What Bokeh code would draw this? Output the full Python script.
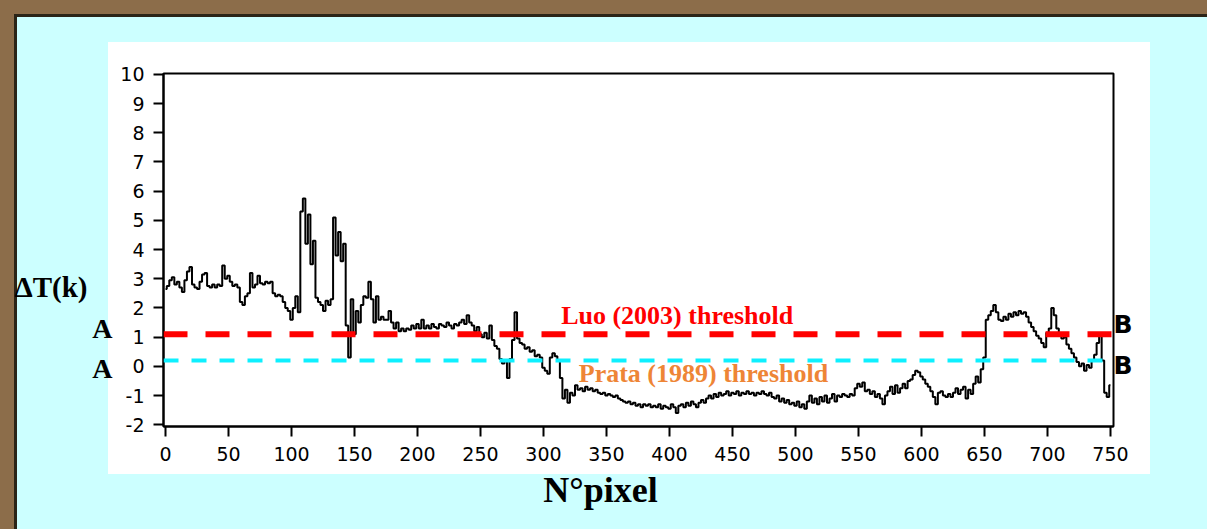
from bokeh.plotting import figure
from bokeh.models import Span, Label, FixedTicker, Range1d, LinearAxis
from bokeh.embed import file_html
from bokeh.resources import INLINE

# ---- data ----
pixel = list(range(0, 751, 2))
delta_t = [
    2.65, 2.75, 2.95, 3.05, 2.8, 2.9, 2.7, 2.55, 2.95, 3.25,
    3.4, 2.8, 2.7, 2.65, 2.9, 3.15, 3.2, 2.75, 2.7, 2.8,
    2.7, 2.8, 2.75, 3.45, 3.0, 3.1, 2.9, 2.75, 2.8, 2.7,
    2.2, 2.1, 2.4, 2.5, 3.2, 2.7, 2.8, 3.1, 2.85, 2.8,
    2.9, 2.85, 2.9, 2.5, 2.4, 2.45, 2.4, 2.2, 2.0, 1.9,
    1.6, 2.0, 2.4, 1.85, 5.3, 5.75, 4.2, 5.2, 3.5, 4.3,
    2.35, 2.2, 2.1, 1.9, 2.25, 2.1, 2.3, 5.1, 3.8, 4.6,
    3.6, 4.2, 1.4, 0.3, 2.3, 1.1, 1.9, 1.5, 2.1, 2.4,
    2.35, 2.9, 2.3, 1.5, 2.4, 1.6, 1.7, 1.6, 1.6, 1.9,
    1.5, 1.3, 1.5, 1.2, 1.3, 1.2, 1.3, 1.25, 1.4, 1.3,
    1.45, 1.3, 1.6, 1.3, 1.4, 1.3, 1.45, 1.35, 1.3, 1.45,
    1.4, 1.35, 1.5, 1.4, 1.3, 1.45, 1.4, 1.5, 1.6, 1.45,
    1.75, 1.5, 1.4, 1.2, 1.35, 1.1, 1.0, 1.15, 0.95, 1.4,
    0.9, 0.7, 0.6, 0.25, 0.1, 0.2, -0.4, 0.25, 0.9, 1.85,
    0.95, 0.8, 0.75, 0.6, 0.65, 0.5, 0.55, 0.35, 0.4, 0.3,
    -0.05, -0.15, -0.25, 0.3, 0.45, 0.35, 0.2, -0.4, -1.1, -0.8,
    -1.25, -0.9, -1.0, -0.65, -0.8, -0.75, -0.85, -0.7, -0.8, -0.75,
    -0.85, -0.8, -0.9, -0.95, -0.9, -1.0, -0.95, -1.0, -1.05, -1.0,
    -1.1, -1.15, -1.2, -1.25, -1.2, -1.3, -1.25, -1.35, -1.3, -1.4,
    -1.3, -1.35, -1.3, -1.4, -1.35, -1.4, -1.3, -1.45, -1.35, -1.4,
    -1.45, -1.3, -1.4, -1.6, -1.35, -1.3, -1.4, -1.25, -1.35, -1.2,
    -1.3, -1.4, -1.25, -1.15, -1.25, -1.1, -1.0, -1.1, -0.95, -1.05,
    -0.9, -1.0, -0.95, -0.85, -1.0, -0.9, -0.95, -0.85, -1.0, -0.9,
    -0.95, -0.85, -0.95, -0.9, -1.0, -0.9, -0.95, -0.85, -0.95, -1.0,
    -0.9, -1.05, -1.1, -1.0, -1.2, -1.1, -1.25, -1.15, -1.3, -1.25,
    -1.35, -1.2, -1.4, -1.3, -1.45, -1.2, -1.0, -1.25, -1.1, -1.3,
    -1.05, -1.2, -1.0, -1.25, -1.1, -0.95, -1.2, -1.0, -1.05, -0.95,
    -1.0, -1.05, -0.95, -1.0, -0.75, -0.6, -0.7, -0.55, -0.85, -0.8,
    -0.95, -0.85, -1.05, -0.95, -1.1, -1.3, -1.0, -0.85, -0.7, -0.95,
    -0.65, -0.9, -0.75, -0.6, -0.75, -0.5, -0.45, -0.3, -0.15, -0.2,
    -0.35, -0.45, -0.6, -0.7, -0.85, -1.05, -1.3, -0.9, -0.85, -1.0,
    -1.05, -0.95, -1.05, -0.9, -0.75, -0.95, -0.8, -0.7, -1.1, -0.8,
    -0.95, -0.6, -0.35, -0.55, -0.1, 0.3, 1.6, 1.75, 1.9, 2.1,
    1.85, 1.6, 1.55, 1.7, 1.6, 1.8, 1.7, 1.85, 1.75, 1.9,
    1.8, 1.85, 1.7, 1.5, 1.35, 1.2, 1.05, 0.95, 0.8, 0.65,
    1.15, 1.3, 2.0, 1.75, 1.3, 1.1, 0.95, 1.0, 0.75, 0.6,
    0.45, 0.3, 0.15, 0.0, 0.1, -0.15, 0.05, -0.05, 0.2, 0.4,
    0.8, 1.05, 0.2, -0.9, -1.05, -0.65,
]
x_ticks = list(range(0, 751, 50))
y_ticks = list(range(-2, 11))
luo_threshold = 1.1
prata_threshold = 0.2
luo_label = "Luo (2003) threshold"
prata_label = "Prata (1989) threshold"
y_title = "ΔT(k)"
x_title = "N°pixel"

W, H = 1207, 529
page_bg = ("linear-gradient(#ffffff,#ffffff) 108px 42px / 1042px 432px no-repeat, "
           "linear-gradient(#ccffff,#ccffff) 17px 17px / 1190px 512px no-repeat, "
           "linear-gradient(#2b2417,#2b2417) 14px 14px / 1193px 515px no-repeat, "
           "#8c6d4a")

p = figure(width=W, height=H, output_backend="svg", toolbar_location=None,
           x_range=Range1d(-1.6, 752.4), y_range=Range1d(-2.06, 10.03),
           min_border_left=163, min_border_right=94, min_border_top=73,
           min_border_bottom=103, styles={"background": page_bg})
p.border_fill_alpha = 0
p.background_fill_color = "white"
p.outline_line_color = "black"
p.outline_line_width = 2
p.xgrid.visible = False
p.ygrid.visible = False

p.step(pixel, delta_t, mode="center", line_color="black", line_width=2)

p.add_layout(Span(location=luo_threshold, dimension="width", line_color="#ff0000",
                  line_width=6, line_dash="24 18"))
p.add_layout(Span(location=prata_threshold, dimension="width", line_color="#0ef0ff",
                  line_width=4, line_dash="15 13"))

for ax in (p.xaxis[0], p.yaxis[0]):
    ax.axis_line_width = 2
    ax.major_tick_line_width = 2
    ax.major_tick_in = 0
    ax.major_tick_out = 10
    ax.minor_tick_line_color = None
    ax.major_label_text_font = "DejaVu Sans"
    ax.major_label_text_font_size = "19px"
    ax.major_label_text_color = "black"
p.xaxis.ticker = FixedTicker(ticks=x_ticks)
p.yaxis.ticker = FixedTicker(ticks=y_ticks)
p.yaxis.major_label_overrides = {t: str(t) for t in y_ticks}
p.xaxis.major_label_standoff = 10
p.yaxis.major_label_standoff = 9

serif = "Liberation Serif"


def text_axis(side, positions, labels, size, standoff, font=serif):
    ax = LinearAxis(ticker=FixedTicker(ticks=positions),
                    major_label_overrides=dict(zip(positions, labels)),
                    axis_line_color=None, major_tick_line_color=None,
                    minor_tick_line_color=None, major_tick_in=0, major_tick_out=0,
                    major_label_standoff=standoff, major_label_text_font=font,
                    major_label_text_font_style="bold",
                    major_label_text_font_size=size, major_label_text_color="black")
    p.add_layout(ax, side)
    return ax


# "A" marks (left of the numeric axis), the y title further out, "B" marks on the right
text_axis("left", [1.30, -0.07], ["A", "A"], "28px", 5)
text_axis("left", [2.71], [y_title], "29px", 2)
text_axis("right", [1.44, 0.02], ["B", "B"], "25px", 0, font="DejaVu Sans")
text_axis("below", [345.2], [x_title], "36px", 6)

p.add_layout(Label(x=314, y=1.75, text=luo_label, text_font=serif, text_font_style="bold",
                   text_font_size="26px", text_color="#ff0000", text_baseline="middle"))
p.add_layout(Label(x=328, y=-0.26, text=prata_label, text_font=serif,
                   text_font_style="bold", text_font_size="26px", text_color="#ee8536",
                   text_baseline="middle"))

open("out.html", "w").write(file_html(p, INLINE))
